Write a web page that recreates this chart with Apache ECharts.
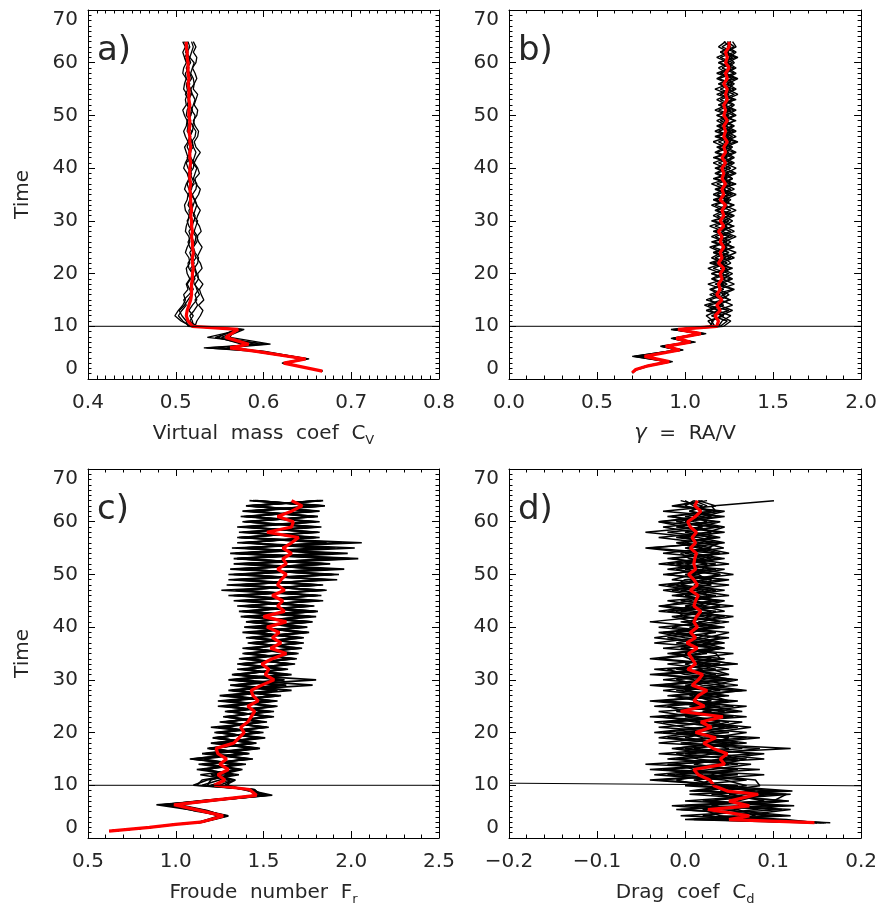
<!DOCTYPE html>
<html><head><meta charset="utf-8">
<script src="https://cdn.jsdelivr.net/npm/echarts@6/dist/echarts.min.js"></script>
<style>html,body{margin:0;padding:0;background:#fff}#c{width:880px;height:907px}</style>
</head><body><div id="c"></div><script>
// ---------- shared late time steps ----------
const lateTimes = [11,12,13,14,15,16,17,18,19,20,21,22,23,24,25,26,27,28,29,30,31,32,33,34,35,36,37,38,39,40,41,42,43,44,45,46,47,48,49,50,51,52,53,54,55,56,57,58,59,60,61,62,63,64];

// ---------- panel a : virtual mass coefficient ----------
const earlyTA = [1.5,3.0,3.8,5.3,5.9,6.6,7.9,9.4,10.0];
const redA = [0.667,0.623,0.648,0.590,0.562,0.583,0.557,0.571,0.519,
 0.514,0.512,0.513,0.515,0.517,0.518,0.518,0.518,0.519,
 0.519,0.520,0.519,0.519,0.520,0.519,0.519,0.518,0.519,
 0.518,0.518,0.517,0.518,0.517,0.517,0.517,0.516,0.517,
 0.516,0.516,0.516,0.517,0.516,0.516,0.517,0.516,0.516,
 0.515,0.516,0.516,0.515,0.515,0.516,0.515,0.515,0.515,
 0.514,0.515,0.514,0.514,0.514,0.513,0.513,0.512,0.512];
const a1 = [0.667,0.624,0.650,0.600,0.548,0.590,0.552,0.574,0.517,
 0.506,0.499,0.503,0.508,0.511,0.509,0.514,0.512,0.516,
 0.513,0.512,0.516,0.515,0.511,0.513,0.516,0.515,0.511,
 0.512,0.514,0.515,0.511,0.510,0.513,0.514,0.510,0.512,
 0.515,0.513,0.509,0.511,0.514,0.512,0.510,0.514,0.511,
 0.509,0.512,0.513,0.510,0.508,0.512,0.511,0.513,0.509,
 0.510,0.512,0.508,0.509,0.512,0.510,0.508,0.511,0.508];
const a2 = [0.667,0.622,0.646,0.585,0.535,0.605,0.536,0.576,0.522,
 0.524,0.528,0.531,0.526,0.532,0.529,0.527,0.531,0.526,
 0.525,0.530,0.528,0.524,0.527,0.530,0.526,0.524,0.529,
 0.527,0.523,0.525,0.528,0.524,0.522,0.526,0.528,0.523,
 0.522,0.527,0.525,0.521,0.524,0.528,0.523,0.521,0.525,
 0.526,0.522,0.520,0.524,0.525,0.521,0.523,0.525,0.520,
 0.521,0.524,0.522,0.519,0.523,0.524,0.520,0.523,0.520];
const a3 = [0.667,0.623,0.648,0.592,0.570,0.575,0.548,0.568,0.514,
 0.512,0.507,0.504,0.510,0.514,0.518,0.516,0.513,0.517,
 0.519,0.515,0.514,0.518,0.520,0.516,0.514,0.517,0.519,
 0.515,0.513,0.517,0.518,0.514,0.516,0.519,0.515,0.513,
 0.516,0.518,0.514,0.512,0.517,0.516,0.513,0.515,0.517,
 0.513,0.514,0.517,0.512,0.513,0.516,0.515,0.511,0.514,
 0.516,0.512,0.511,0.515,0.513,0.510,0.514,0.512,0.513];
const a4 = [0.667,0.625,0.652,0.596,0.532,0.596,0.556,0.578,0.520,
 0.519,0.516,0.521,0.525,0.522,0.527,0.524,0.522,0.526,
 0.523,0.521,0.525,0.526,0.522,0.520,0.524,0.525,0.521,
 0.523,0.525,0.520,0.522,0.524,0.521,0.519,0.523,0.524,
 0.520,0.522,0.524,0.519,0.521,0.523,0.520,0.518,0.522,
 0.523,0.519,0.521,0.522,0.518,0.520,0.522,0.519,0.517,
 0.521,0.520,0.517,0.519,0.521,0.516,0.518,0.520,0.518];
const a5 = [0.667,0.621,0.644,0.588,0.558,0.608,0.562,0.566,0.516,
 0.508,0.503,0.507,0.512,0.509,0.515,0.520,0.517,0.522,
 0.519,0.517,0.521,0.518,0.516,0.520,0.521,0.517,0.515,
 0.519,0.520,0.516,0.515,0.519,0.517,0.514,0.518,0.519,
 0.515,0.514,0.518,0.516,0.513,0.517,0.518,0.514,0.516,
 0.518,0.514,0.513,0.517,0.516,0.513,0.515,0.517,0.513,
 0.512,0.516,0.514,0.512,0.515,0.516,0.511,0.514,0.510];
const a6 = [0.667,0.623,0.649,0.594,0.566,0.580,0.545,0.572,0.524,
 0.516,0.520,0.515,0.519,0.524,0.522,0.526,0.521,0.520,
 0.524,0.522,0.519,0.523,0.521,0.518,0.522,0.523,0.519,
 0.517,0.521,0.522,0.518,0.520,0.522,0.517,0.516,0.521,
 0.519,0.516,0.520,0.521,0.517,0.515,0.520,0.519,0.516,
 0.519,0.520,0.515,0.517,0.519,0.516,0.514,0.518,0.517,
 0.514,0.518,0.516,0.513,0.517,0.515,0.513,0.516,0.514];
const hlineA = [[0.4,10],[0.8,10]];

// ---------- panel b : gamma = RA/V ----------
const earlyTB = [1.2,1.8,2.5,3.3,4.3,5.5,6.2,7.0,7.7,8.6,9.4,10.0];
const redB = [0.70,0.72,0.79,0.91,0.77,0.97,0.89,1.03,0.95,1.09,0.96,1.18,
 1.19,1.17,1.20,1.18,1.21,1.18,1.20,1.19,1.21,
 1.20,1.22,1.19,1.21,1.20,1.22,1.20,1.21,1.19,
 1.22,1.20,1.22,1.21,1.23,1.20,1.22,1.21,1.23,
 1.21,1.22,1.21,1.23,1.21,1.23,1.22,1.24,1.22,
 1.23,1.22,1.24,1.22,1.23,1.22,1.24,1.23,1.24,
 1.22,1.24,1.23,1.25,1.23,1.24,1.23,1.25,1.25];
const b1 = [0.70,0.72,0.79,0.92,0.72,0.98,0.87,1.05,0.93,1.11,0.94,1.16,
 1.13,1.22,1.12,1.20,1.14,1.23,1.15,1.24,1.16,
 1.25,1.16,1.24,1.17,1.25,1.16,1.24,1.17,1.26,
 1.17,1.25,1.18,1.26,1.17,1.25,1.18,1.26,1.18,
 1.27,1.18,1.26,1.19,1.27,1.18,1.26,1.19,1.27,
 1.19,1.27,1.20,1.28,1.19,1.27,1.20,1.28,1.20,
 1.27,1.19,1.28,1.21,1.27,1.20,1.28,1.21,1.26];
const b2 = [0.70,0.72,0.78,0.90,0.70,0.96,0.86,1.02,0.92,1.08,0.93,1.20,
 1.24,1.15,1.25,1.13,1.26,1.16,1.27,1.17,1.26,
 1.15,1.27,1.16,1.26,1.17,1.28,1.16,1.27,1.17,
 1.28,1.16,1.27,1.18,1.28,1.17,1.27,1.18,1.29,
 1.17,1.28,1.18,1.27,1.17,1.28,1.19,1.29,1.18,
 1.28,1.19,1.29,1.18,1.28,1.19,1.29,1.20,1.28,
 1.19,1.29,1.20,1.28,1.19,1.29,1.20,1.28,1.24];
const b3 = [0.70,0.73,0.80,0.93,0.74,0.99,0.88,1.06,0.94,1.12,0.95,1.14,
 1.16,1.12,1.19,1.11,1.21,1.14,1.22,1.13,1.23,
 1.15,1.24,1.14,1.23,1.16,1.24,1.15,1.25,1.16,
 1.24,1.15,1.25,1.17,1.24,1.16,1.25,1.17,1.26,
 1.16,1.25,1.17,1.26,1.16,1.25,1.18,1.26,1.17,
 1.26,1.18,1.25,1.18,1.26,1.19,1.27,1.18,1.26,
 1.19,1.27,1.18,1.26,1.19,1.27,1.20,1.26,1.22];
const b4 = [0.70,0.72,0.79,0.91,0.76,0.97,0.90,1.04,0.96,1.10,0.97,1.22,
 1.26,1.20,1.27,1.19,1.25,1.21,1.28,1.20,1.27,
 1.21,1.26,1.20,1.28,1.21,1.27,1.22,1.29,1.21,
 1.27,1.22,1.28,1.21,1.27,1.22,1.29,1.21,1.28,
 1.22,1.29,1.23,1.28,1.22,1.29,1.23,1.30,1.22,
 1.29,1.23,1.28,1.23,1.29,1.22,1.28,1.23,1.29,
 1.24,1.30,1.23,1.29,1.24,1.30,1.23,1.29,1.27];
const b5 = [0.70,0.72,0.78,0.89,0.71,0.95,0.87,1.01,0.93,1.07,0.95,1.17,
 1.15,1.21,1.14,1.22,1.12,1.20,1.14,1.22,1.15,
 1.21,1.13,1.22,1.15,1.21,1.14,1.23,1.15,1.22,
 1.14,1.23,1.16,1.22,1.15,1.24,1.16,1.23,1.15,
 1.24,1.17,1.23,1.16,1.24,1.17,1.23,1.16,1.25,
 1.17,1.24,1.18,1.25,1.17,1.24,1.18,1.25,1.17,
 1.25,1.18,1.24,1.19,1.25,1.18,1.25,1.19,1.23];
const b6 = [0.70,0.72,0.79,0.92,0.73,0.98,0.88,1.05,0.94,1.11,0.92,1.19,
 1.21,1.26,1.18,1.27,1.20,1.25,1.19,1.28,1.21,
 1.27,1.20,1.26,1.22,1.29,1.21,1.26,1.20,1.28,
 1.22,1.27,1.21,1.29,1.22,1.26,1.21,1.28,1.22,
 1.27,1.23,1.29,1.22,1.28,1.23,1.27,1.22,1.29,
 1.23,1.28,1.22,1.29,1.24,1.28,1.23,1.30,1.24,
 1.28,1.23,1.29,1.24,1.28,1.25,1.29,1.24,1.26];
const hlineB = [[0,10],[2,10]];

// ---------- panel c : Froude number ----------
const earlyTC = [1.3,2.0,2.6,3.0,3.6,4.2,5.2,6.3,7.2,8.1,9.2,10.0];
const redC = [0.62,0.85,1.00,1.14,1.21,1.27,1.14,0.99,1.22,1.46,1.42,1.22,
 1.28,1.24,1.30,1.25,1.29,1.24,1.23,1.33,1.36,
 1.39,1.37,1.41,1.43,1.45,1.41,1.47,1.44,1.43,
 1.49,1.56,1.51,1.53,1.49,1.55,1.63,1.54,1.60,
 1.55,1.59,1.52,1.63,1.50,1.62,1.58,1.61,1.55,
 1.62,1.58,1.60,1.63,1.58,1.63,1.61,1.66,1.61,
 1.66,1.70,1.52,1.66,1.67,1.58,1.66,1.72,1.66];
const c1 = [0.62,0.85,1.00,1.15,1.23,1.30,1.16,0.92,1.18,1.50,1.44,1.12,
 1.15,1.33,1.12,1.38,1.10,1.42,1.18,1.46,1.22,
 1.48,1.24,1.50,1.27,1.54,1.30,1.56,1.25,1.58,
 1.31,1.80,1.33,1.61,1.36,1.65,1.38,1.68,1.41,
 1.70,1.43,1.74,1.40,1.76,1.42,1.78,1.36,1.80,
 1.26,1.84,1.33,1.90,1.31,1.86,1.35,1.98,1.32,
 2.06,1.36,1.82,1.38,1.79,1.37,1.82,1.40,1.84];
const c2 = [0.62,0.85,1.01,1.13,1.20,1.26,1.12,0.89,1.24,1.55,1.40,1.25,
 1.33,1.14,1.37,1.15,1.44,1.17,1.45,1.20,1.49,
 1.23,1.51,1.27,1.53,1.29,1.55,1.24,1.57,1.30,
 1.60,1.32,1.64,1.35,1.66,1.37,1.69,1.40,1.73,
 1.42,1.75,1.39,1.77,1.41,1.79,1.37,1.82,1.30,
 1.85,1.34,1.92,1.30,1.88,1.33,1.99,1.34,2.02,
 1.38,1.80,1.36,1.78,1.39,1.81,1.41,1.83,1.42];
const c3 = [0.62,0.85,1.00,1.14,1.22,1.28,1.10,0.95,1.20,1.48,1.45,1.18,
 1.20,1.30,1.16,1.40,1.08,1.38,1.19,1.44,1.21,
 1.50,1.26,1.47,1.28,1.56,1.24,1.52,1.31,1.66,
 1.34,1.59,1.35,1.63,1.37,1.67,1.43,1.71,1.44,
 1.73,1.45,1.70,1.42,1.77,1.40,1.74,1.33,1.83,
 1.37,1.80,1.35,1.93,1.34,1.84,1.37,1.90,1.40,
 1.95,1.39,1.77,1.40,1.80,1.43,1.78,1.41,1.82];
const c4 = [0.62,0.86,1.01,1.15,1.21,1.27,1.18,1.02,1.26,1.53,1.38,1.28,
 1.34,1.22,1.36,1.13,1.43,1.19,1.47,1.22,1.46,
 1.27,1.52,1.25,1.56,1.28,1.54,1.33,1.59,1.32,
 1.78,1.36,1.62,1.38,1.66,1.40,1.70,1.42,1.72,
 1.46,1.76,1.43,1.78,1.39,1.81,1.35,1.84,1.38,
 1.86,1.29,1.87,1.36,1.96,1.38,2.04,1.36,1.85,
 1.41,1.79,1.38,1.81,1.42,1.79,1.44,1.85,1.45];
const c5 = [0.62,0.85,0.99,1.13,1.19,1.25,1.13,0.97,1.21,1.45,1.43,1.15,
 1.25,1.32,1.18,1.35,1.16,1.41,1.20,1.43,1.24,
 1.45,1.29,1.49,1.31,1.52,1.27,1.55,1.34,1.57,
 1.36,1.62,1.32,1.64,1.39,1.68,1.41,1.66,1.46,
 1.72,1.38,1.75,1.44,1.73,1.36,1.79,1.40,1.81,
 1.34,1.83,1.39,1.89,1.36,1.85,1.33,1.87,1.38,
 1.83,1.37,1.81,1.35,1.77,1.40,1.80,1.43,1.81];
const c6 = [0.62,0.85,1.00,1.14,1.22,1.29,1.15,0.93,1.19,1.51,1.41,1.20,
 1.31,1.20,1.34,1.18,1.39,1.22,1.48,1.24,1.51,
 1.22,1.49,1.29,1.55,1.31,1.57,1.29,1.55,1.35,
 1.58,1.34,1.66,1.39,1.64,1.43,1.67,1.38,1.71,
 1.40,1.73,1.45,1.76,1.43,1.72,1.39,1.78,1.35,
 1.81,1.37,1.84,1.40,1.87,1.36,1.92,1.31,1.80,
 1.39,1.76,1.41,1.83,1.38,1.77,1.43,1.80,1.46];
const c7 = [0.62,0.85,1.00,1.15,1.21,1.28,1.14,0.96,1.23,1.47,1.44,1.10,
 1.18,1.36,1.15,1.33,1.09,1.37,1.21,1.45,1.23,
 1.47,1.20,1.52,1.30,1.50,1.32,1.58,1.27,1.56,
 1.33,1.61,1.37,1.60,1.35,1.69,1.39,1.72,1.42,
 1.68,1.47,1.71,1.41,1.80,1.38,1.76,1.42,1.79,
 1.36,1.82,1.30,1.85,1.39,1.88,1.35,1.83,1.37,
 1.86,1.35,1.79,1.42,1.82,1.39,1.79,1.42,1.83];
const c8 = [0.62,0.85,1.00,1.14,1.22,1.27,1.17,1.00,1.25,1.52,1.39,1.30,
 1.30,1.25,1.38,1.19,1.41,1.15,1.42,1.26,1.47,
 1.25,1.53,1.28,1.51,1.33,1.58,1.27,1.60,1.33,
 1.63,1.30,1.60,1.41,1.68,1.36,1.65,1.44,1.70,
 1.42,1.72,1.46,1.74,1.37,1.80,1.41,1.77,1.33,
 1.84,1.35,1.86,1.33,1.82,1.40,1.88,1.37,1.91,
 1.35,1.82,1.42,1.76,1.40,1.81,1.38,1.84,1.44];
const hlineC = [[0.5,10],[2.5,10]];

// ---------- panel d : drag coefficient ----------
const earlyTD = [2.9,3.5,4.2,5.4,6.1,7.0,8.3,8.9,9.9];
const redD = [0.147,0.050,0.073,0.026,0.073,0.050,0.083,0.048,0.033,
 0.028,0.015,0.010,0.045,0.040,0.048,0.032,0.021,0.035,
 0.012,0.030,0.018,0.043,-0.005,0.022,0.010,0.015,0.025,
 0.008,0.015,0.020,0.003,0.012,0.008,0.004,0.014,0.002,
 0.012,0.006,0.014,0.010,0.013,0.018,0.010,0.012,0.015,
 0.006,0.014,0.010,0.004,0.012,0.010,0.011,0.013,0.006,
 0.012,0.008,0.013,0.006,0.003,0.012,0.018,0.011,0.014];
const d1 = [0.160,0.010,0.110,-0.010,0.100,0.020,0.120,0.010,0.060,
 -0.030,0.060,-0.040,0.050,-0.010,0.080,0.010,0.060,-0.020,
 0.050,-0.030,0.040,0.000,0.060,-0.035,0.030,0.010,0.065,
 -0.020,0.040,-0.030,0.020,0.000,0.030,-0.015,0.035,0.010,
 0.040,-0.010,0.045,0.000,0.030,-0.020,0.040,0.010,0.035,
 -0.015,0.030,0.005,0.040,-0.020,0.025,0.010,0.035,-0.040,
 0.030,0.000,0.040,-0.010,0.025,0.010,0.035,0.030,0.101];
const d2 = [0.150,0.090,-0.005,0.110,0.000,0.115,0.030,0.100,0.000,
 0.070,-0.010,0.085,-0.045,0.050,0.000,0.120,-0.005,0.070,
 -0.010,0.060,-0.025,0.055,-0.010,0.040,-0.030,0.050,0.000,
 0.045,-0.025,0.035,-0.010,0.040,-0.030,0.025,0.000,0.030,
 -0.020,0.035,0.005,0.050,-0.010,0.030,0.000,0.040,-0.010,
 0.030,-0.020,0.045,0.000,0.035,-0.010,0.040,-0.025,0.030,
 0.000,0.035,-0.020,0.040,-0.010,0.030,0.005,0.025,0.010];
const d3 = [0.145,0.030,0.120,0.040,-0.015,0.090,0.050,0.122,0.040,
 0.010,0.090,-0.020,0.040,0.070,-0.030,0.050,0.020,0.085,
 -0.025,0.030,0.065,-0.040,0.045,0.010,0.060,-0.020,0.040,
 0.000,0.050,-0.040,0.035,0.010,0.045,-0.020,0.030,0.005,
 0.050,-0.025,0.030,0.015,0.055,-0.005,0.020,0.045,-0.015,
 0.035,0.010,0.050,-0.025,0.030,0.000,0.045,0.010,-0.045,
 0.035,-0.005,0.045,0.000,-0.030,0.040,0.005,0.020,-0.005];
const d4 = [0.155,0.100,0.020,0.080,0.110,0.000,0.105,0.020,0.070,
 0.045,-0.035,0.030,0.075,-0.020,0.035,0.085,-0.030,0.030,
 0.070,0.000,-0.035,0.050,0.020,0.070,-0.025,0.025,0.055,
 -0.030,0.020,0.045,-0.005,0.030,-0.040,0.015,0.040,-0.010,
 0.025,0.050,-0.015,0.020,0.040,-0.030,0.015,0.030,0.000,
 0.045,-0.005,0.020,0.040,0.000,0.035,-0.020,0.040,0.015,
 -0.010,0.040,0.010,-0.025,0.035,0.000,0.040,-0.015,0.020];
const d5 = [0.165,0.060,0.095,-0.005,0.060,0.118,0.005,0.080,0.020,
 -0.010,0.030,0.055,-0.020,0.090,0.030,-0.015,0.050,0.000,
 0.030,0.075,0.010,-0.020,0.065,0.025,-0.040,0.045,-0.010,
 0.060,0.010,-0.025,0.050,0.015,0.005,0.055,-0.025,0.040,
 0.000,-0.030,0.040,0.010,-0.015,0.045,0.020,-0.020,0.050,
 0.010,-0.030,0.025,0.015,-0.010,0.050,0.005,-0.005,0.044,
 0.020,-0.030,0.030,0.015,0.040,-0.020,0.030,0.010,0.000];
const d6 = [0.140,0.000,0.060,0.120,0.030,0.060,0.090,0.040,0.085,
 0.080,0.020,-0.025,0.060,0.015,-0.010,0.065,0.040,-0.030,
 0.010,0.045,-0.015,0.070,0.000,-0.020,0.045,0.005,0.030,
 -0.040,0.055,0.020,-0.035,0.060,0.005,-0.010,0.045,0.020,
 -0.035,0.010,0.025,-0.040,0.020,0.035,-0.025,0.005,0.030,
 -0.005,0.050,-0.015,0.010,0.045,-0.030,0.020,0.035,0.000,
 0.045,0.015,-0.045,0.020,0.000,0.045,-0.025,0.035,0.015];
const d7 = [0.150,0.115,0.040,0.020,0.124,0.030,0.070,0.110,0.010,
 0.030,-0.020,0.060,0.010,0.040,0.090,-0.010,0.030,0.050,
 -0.035,0.020,0.050,0.010,-0.030,0.055,0.015,-0.015,0.070,
 0.020,-0.010,0.050,0.030,-0.020,0.040,0.035,-0.005,0.045,
 0.015,-0.020,0.035,-0.005,0.045,0.010,-0.030,0.035,0.015,
 -0.025,0.025,0.030,-0.020,0.020,0.025,-0.015,0.050,0.020,
 -0.005,0.030,0.000,0.035,-0.030,0.020,0.045,-0.010,0.025];
const d8 = [0.158,0.040,0.080,0.060,0.010,0.100,0.115,0.005,0.050,
 -0.040,0.050,0.010,-0.010,0.060,0.040,0.000,0.070,0.020,
 0.000,0.055,0.020,-0.030,0.030,0.005,0.050,0.030,-0.025,
 0.030,0.060,0.000,-0.020,0.055,0.015,0.000,0.040,-0.035,
 0.015,0.030,-0.030,0.040,0.000,-0.010,0.055,-0.005,0.025,
 0.020,-0.010,0.000,0.055,0.015,-0.020,0.030,0.000,0.025,
 0.040,-0.010,0.025,0.045,0.010,-0.015,0.030,0.000,0.010];
const hlineD = [[-0.2,10.4],[0.2,9.9]];

// ---------- chart ----------
const FONT = "'DejaVu Sans', sans-serif";
const TXT = '#262626';
const panels = [
  {grid:{left:88,top:10,width:351,height:369}, xmin:0.4,xmax:0.8,xint:0.1,minor:10, yName:'Time', lw:1.3,
   name:'Virtual  mass  coef  C{s|V}', tag:'a)', early:earlyTA, red:redA, members:[a1,a2,a3,a4,a5,a6], hline:hlineA},
  {grid:{left:509,top:10,width:353,height:369}, xmin:0,xmax:2,xint:0.5,minor:5, yName:'', lw:1.4,
   name:'{g|\u03b3}  =  RA/V', tag:'b)', early:earlyTB, red:redB, members:[b1,b2,b3,b4,b5,b6], hline:hlineB},
  {grid:{left:88,top:469,width:351,height:369}, xmin:0.5,xmax:2.5,xint:0.5,minor:5, yName:'Time', lw:1.6,
   name:'Froude  number  F{s|r}', tag:'c)', early:earlyTC, red:redC, members:[c1,c2,c3,c4,c5,c6,c7,c8], hline:hlineC},
  {grid:{left:509,top:469,width:353,height:369}, xmin:-0.2,xmax:0.2,xint:0.1,minor:5, yName:'', lw:1.5,
   name:'Drag  coef  C{s|d}', tag:'d)', early:earlyTD, red:redD, members:[d1,d2,d3,d4,d5,d6,d7,d8], hline:hlineD}
];

function pairs(times, xs){
  const out=[]; const n=Math.min(times.length, xs.length);
  for(let i=0;i<n;i++) out.push([xs[i], times[i]]);
  return out;
}
function fmtX(v){ const s=Math.abs(v).toFixed(1); return (v<-1e-9?'\u2212':'')+s; }

const tickStyle = {show:true, inside:true, length:7, lineStyle:{color:'#000', width:1}};
const minorStyle = n => ({show:true, splitNumber:n, length:3.5, lineStyle:{color:'#000', width:1}});
const lineSt = {show:true, onZero:false, lineStyle:{color:'#000', width:1}};

const grids=[], xAxes=[], yAxes=[], series=[], graphics=[];
panels.forEach((p,i)=>{
  grids.push(p.grid);
  const xBase = {type:'value', gridIndex:i, min:p.xmin, max:p.xmax, interval:p.xint,
    axisLine:lineSt, axisTick:tickStyle, minorTick:minorStyle(p.minor), splitLine:{show:false}, minorSplitLine:{show:false}};
  xAxes.push(Object.assign({}, xBase, {position:'bottom',
    axisLabel:{show:true, formatter:fmtX, color:TXT, fontSize:20, fontFamily:FONT, margin:14},
    name:p.name, nameLocation:'middle', nameGap:42,
    nameTextStyle:{color:TXT, fontSize:20, fontFamily:FONT, lineHeight:26,
      rich:{s:{fontSize:13, fontFamily:FONT, color:TXT, verticalAlign:'bottom', lineHeight:26},
            g:{fontSize:21, fontFamily:FONT, color:TXT, fontStyle:'italic', lineHeight:26}}}}));
  xAxes.push(Object.assign({}, xBase, {position:'top', axisLabel:{show:false}}));
  const yBase = {type:'value', gridIndex:i, min:0, max:70, interval:10,
    axisLine:lineSt, axisTick:tickStyle, minorTick:minorStyle(10), splitLine:{show:false}, minorSplitLine:{show:false}};
  yAxes.push(Object.assign({}, yBase, {position:'left',
    axisLabel:{show:true, color:TXT, fontSize:20, fontFamily:FONT, margin:10,
      verticalAlignMinLabel:'bottom', verticalAlignMaxLabel:'top'},
    name:p.yName, nameLocation:'middle', nameGap:55,
    nameTextStyle:{color:TXT, fontSize:20, fontFamily:FONT}}));
  yAxes.push(Object.assign({}, yBase, {position:'right', axisLabel:{show:false}}));
  const times = p.early.concat(lateTimes);
  p.members.forEach(m=>{
    series.push({type:'line', xAxisIndex:2*i, yAxisIndex:2*i, data:pairs(times,m),
      showSymbol:false, symbol:'none', silent:true, animation:false,
      lineStyle:{color:'#000', width:p.lw}, z:2});
  });
  series.push({type:'line', xAxisIndex:2*i, yAxisIndex:2*i, data:pairs(times,p.red),
    showSymbol:false, symbol:'none', silent:true, animation:false,
    lineStyle:{color:'#ff0000', width:3.2}, z:3});
  series.push({type:'line', xAxisIndex:2*i, yAxisIndex:2*i, data:p.hline,
    showSymbol:false, symbol:'none', silent:true, animation:false,
    lineStyle:{color:'#000', width:1}, z:4});
  graphics.push({type:'text', left:p.grid.left+9, top:p.grid.top+24,
    style:{text:p.tag, fontSize:34, fontFamily:FONT, fill:TXT}});
});

const chart = echarts.init(document.getElementById('c'), null, {renderer:'canvas'});
chart.setOption({
  animation:false, backgroundColor:'#fff',
  grid:grids, xAxis:xAxes, yAxis:yAxes, series:series, graphic:graphics
});
</script></body></html>
